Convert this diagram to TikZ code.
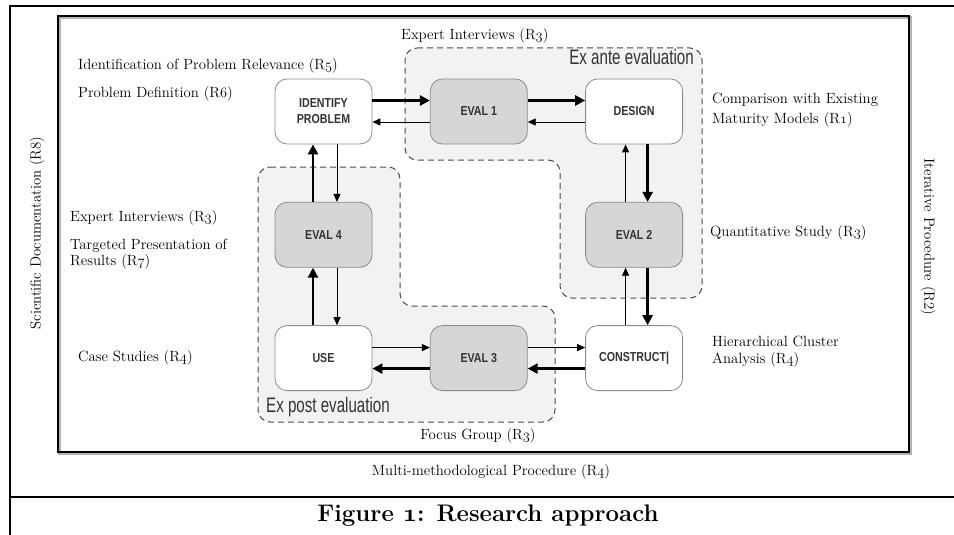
\documentclass[tikz,border=0pt]{standalone}
\usepackage{fontspec}
\usepackage{tikz}
\usetikzlibrary{arrows.meta,positioning}
\newfontfamily\boxfont{Liberation Sans}[FakeStretch=0.82]
\newfontfamily\areafont{Liberation Sans}[FakeStretch=0.72]
\newcommand{\osnum}[1]{{\usefont{OML}{cmm}{m}{it}#1}}
\newcommand{\osbold}[1]{{\usefont{OML}{cmm}{b}{it}#1}}
\newcommand{\Rnum}[1]{(R\osnum{#1})}
\definecolor{areagray}{HTML}{F2F2F2}
\definecolor{evalgray}{HTML}{D6D6D6}
\definecolor{boxline}{HTML}{8C8C8C}
\definecolor{boxtext}{HTML}{333333}

\begin{document}
\begin{tikzpicture}[x=1pt, y=-1pt,
    every node/.style={font=\fontsize{14.8}{17}\selectfont, inner sep=0pt},
    phase/.style={draw=boxline, line width=0.8pt, fill=white, rounded corners=12pt,
      minimum width=97pt, minimum height=65pt, align=center, text=boxtext,
      font=\boxfont\bfseries\fontsize{13}{16}\selectfont},
    evalbox/.style={phase, fill=evalgray},
    area/.style={draw=black!70, dash pattern=on 6pt off 4pt, line width=1pt,
      fill=areagray, rounded corners=12pt},
    arealabel/.style={font=\areafont\fontsize{21}{24}\selectfont, text=boxtext},
    main/.style={-{Triangle[length=10pt,width=10pt]}, line width=2.6pt},
    back/.style={-{Triangle[length=8pt,width=7pt]}, line width=0.9pt},
    note/.style={anchor=west, align=left},
    node distance=57.5pt]
  \useasboundingbox (0,0) rectangle (954,535);
  % frame of figure and caption
  \draw[line width=1.8pt] (954,6) -- (10,6) -- (10,535);
  \draw[line width=1.8pt] (10,497) -- (954,497);
  \draw[gray!60, line width=2.6pt] (59.5,17.5) rectangle (910.5,453.5);
  \draw[line width=2.6pt] (58,16) rectangle (909,452);

  % evaluation areas
  \draw[area] (405,48) -- (702,48) -- (702,298) -- (560,298) -- (560,160) -- (405,160) -- cycle;
  \draw[area] (258,167) -- (400,167) -- (400,306) -- (555,306) -- (555,422) -- (258,422) -- cycle;
  \node[arealabel, anchor=base east] (exante) at (694,65) {Ex ante evaluation};
  \node[arealabel, anchor=base west] (expost) at (266,412) {Ex post evaluation};

  % phases
  \node[phase] (identify) at (323.5,111.5) {IDENTIFY\\PROBLEM};
  \node[evalbox, right=of identify] (eval1) {EVAL 1};
  \node[phase, right=of eval1] (design) {DESIGN};
  \node[evalbox, below=of design] (eval2) {EVAL 2};
  \node[phase, below=of eval2] (construct) {CONSTRUCT|};
  \node[evalbox, left=of construct] (eval3) {EVAL 3};
  \node[phase, left=of eval3] (use) {USE};
  \node[evalbox, above=of use] (eval4) {EVAL 4};

  \foreach \a/\b in {identify/eval1, eval1/design} {
    \draw[main] ([yshift=11pt]\a.east) -- ([yshift=11pt]\b.west);
    \draw[back] ([yshift=-10.5pt]\b.west) -- ([yshift=-10.5pt]\a.east);
  }
  \foreach \a/\b in {design/eval2, eval2/construct} {
    \draw[main] ([xshift=13.5pt]\a.south) -- ([xshift=13.5pt]\b.north);
    \draw[back] ([xshift=-8.5pt]\b.north) -- ([xshift=-8.5pt]\a.south);
  }
  \foreach \a/\b in {construct/eval3, eval3/use} {
    \draw[main] ([yshift=-10.5pt]\a.west) -- ([yshift=-10.5pt]\b.east);
    \draw[back] ([yshift=10.5pt]\b.east) -- ([yshift=10.5pt]\a.west);
  }
  \foreach \a/\b in {use/eval4, eval4/identify} {
    \draw[main] ([xshift=-10.5pt]\a.north) -- ([xshift=-10.5pt]\b.south);
    \draw[back] ([xshift=13.5pt]\b.south) -- ([xshift=13.5pt]\a.north);
  }

  % methods
  \node[note] (experttop) at (401,36) {Expert Interviews \Rnum{3}};
  \node[note] (relevance) at (78,66) {Identification of Problem Relevance \Rnum{5}};
  \node[note] (definition) at (78,94) {Problem Definition \Rnum{6}};
  \node[note, font=\fontsize{14.8}{20}\selectfont] (comparison) at (712,110)
    {Comparison with Existing\\Maturity Models \Rnum{1}};
  \node[note] (expertleft) at (70,218) {Expert Interviews \Rnum{3}};
  \node[note, font=\fontsize{14.8}{16.5}\selectfont] (targeted) at (70,254)
    {Targeted Presentation of\\Results \Rnum{7}};
  \node[note] (cases) at (78,358) {Case Studies \Rnum{4}};
  \node[note] (quant) at (710,233) {Quantitative Study \Rnum{3}};
  \node[note] (cluster) at (712,351.5) {Hierarchical Cluster\\Analysis \Rnum{4}};
  \node (focus) at (478,436) {Focus Group \Rnum{3}};
  \node (multi) at (491,472) {Multi-methodological Procedure \Rnum{4}};
  \node[rotate=90] (scidoc) at (37,233) {Scientific Documentation (R8)};
  \node[rotate=-90] (iter) at (928,237) {Iterative Procedure (R2)};

  \node[font=\bfseries\fontsize{24}{28}\selectfont] (caption) at (488,516)
    {Figure \osbold{1}: Research approach};
\end{tikzpicture}
\end{document}
